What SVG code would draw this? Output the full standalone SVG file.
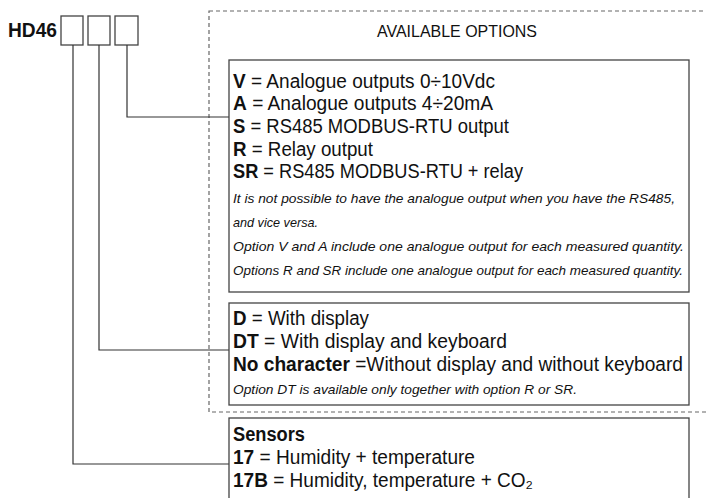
<svg xmlns="http://www.w3.org/2000/svg" width="706" height="498" viewBox="0 0 706 498">
<style>
text{font-family:"Liberation Sans",Arial,sans-serif;fill:#111}
.m{font-size:20px}
.b{font-weight:bold}
.i{font-size:13.5px;font-style:italic}
.box{fill:#fff;stroke:#444;stroke-width:1.3}
.dash{fill:none;stroke:#666;stroke-width:1.2;stroke-dasharray:4 3}
.c{fill:none;stroke:#333;stroke-width:1.2}
</style>
<rect width="706" height="498" fill="#fff"/>
<g id="code">
<text x="8" y="37" class="m b" textLength="49" lengthAdjust="spacingAndGlyphs">HD46</text>
<rect class="box" x="61" y="16" width="22" height="29"/>
<rect class="box" x="88" y="16" width="22" height="29"/>
<rect class="box" x="115" y="16" width="23" height="29"/>
</g>
<g id="options-frame">
<rect class="dash" x="209" y="11" width="510" height="401"/>
<text x="377" y="37" font-size="17" textLength="160" lengthAdjust="spacingAndGlyphs">AVAILABLE OPTIONS</text>
</g>
<g id="connectors">
<polyline class="c" points="127,45 127,117 229,117"/>
<polyline class="c" points="99,45 99,350 229,350"/>
<polyline class="c" points="73,45 73,464 229,464"/>
</g>
<g id="outputs">
<rect class="box" x="229" y="60" width="460" height="232"/>
<text x="233" y="88" class="m" textLength="262" lengthAdjust="spacingAndGlyphs"><tspan class="b">V</tspan> = Analogue outputs 0÷10Vdc</text>
<text x="233" y="110" class="m" textLength="260" lengthAdjust="spacingAndGlyphs"><tspan class="b">A</tspan> = Analogue outputs 4÷20mA</text>
<text x="233" y="133" class="m" textLength="276" lengthAdjust="spacingAndGlyphs"><tspan class="b">S</tspan> = RS485 MODBUS-RTU output</text>
<text x="233" y="156" class="m" textLength="140" lengthAdjust="spacingAndGlyphs"><tspan class="b">R</tspan> = Relay output</text>
<text x="233" y="178" class="m" textLength="290" lengthAdjust="spacingAndGlyphs"><tspan class="b">SR</tspan> = RS485 MODBUS-RTU + relay</text>
<text x="233" y="203" class="i" textLength="442" lengthAdjust="spacingAndGlyphs">It is not possible to have the analogue output when you have the RS485,</text>
<text x="233" y="227" class="i" textLength="85" lengthAdjust="spacingAndGlyphs">and vice versa.</text>
<text x="233" y="251" class="i" textLength="451" lengthAdjust="spacingAndGlyphs">Option V and A include one analogue output for each measured quantity.</text>
<text x="233" y="275" class="i" textLength="450" lengthAdjust="spacingAndGlyphs">Options R and SR include one analogue output for each measured quantity.</text>
</g>
<g id="display">
<rect class="box" x="229" y="303" width="460" height="102"/>
<text x="233" y="325" class="m" textLength="136" lengthAdjust="spacingAndGlyphs"><tspan class="b">D</tspan> = With display</text>
<text x="233" y="348" class="m" textLength="274" lengthAdjust="spacingAndGlyphs"><tspan class="b">DT</tspan> = With display and  keyboard</text>
<text x="233" y="371" class="m" textLength="450" lengthAdjust="spacingAndGlyphs"><tspan class="b">No character</tspan> =Without display and without keyboard</text>
<text x="233" y="394" class="i" textLength="344" lengthAdjust="spacingAndGlyphs">Option DT is available only together with option R or SR.</text>
</g>
<g id="sensors">
<rect class="box" x="229" y="418" width="460" height="100"/>
<text x="233" y="441" class="m b" textLength="72" lengthAdjust="spacingAndGlyphs">Sensors</text>
<text x="233" y="464" class="m" textLength="242" lengthAdjust="spacingAndGlyphs"><tspan class="b">17</tspan> = Humidity + temperature</text>
<text x="233" y="487" class="m" textLength="300" lengthAdjust="spacingAndGlyphs"><tspan class="b">17B</tspan> = Humidity, temperature + CO₂</text>
</g>
</svg>
